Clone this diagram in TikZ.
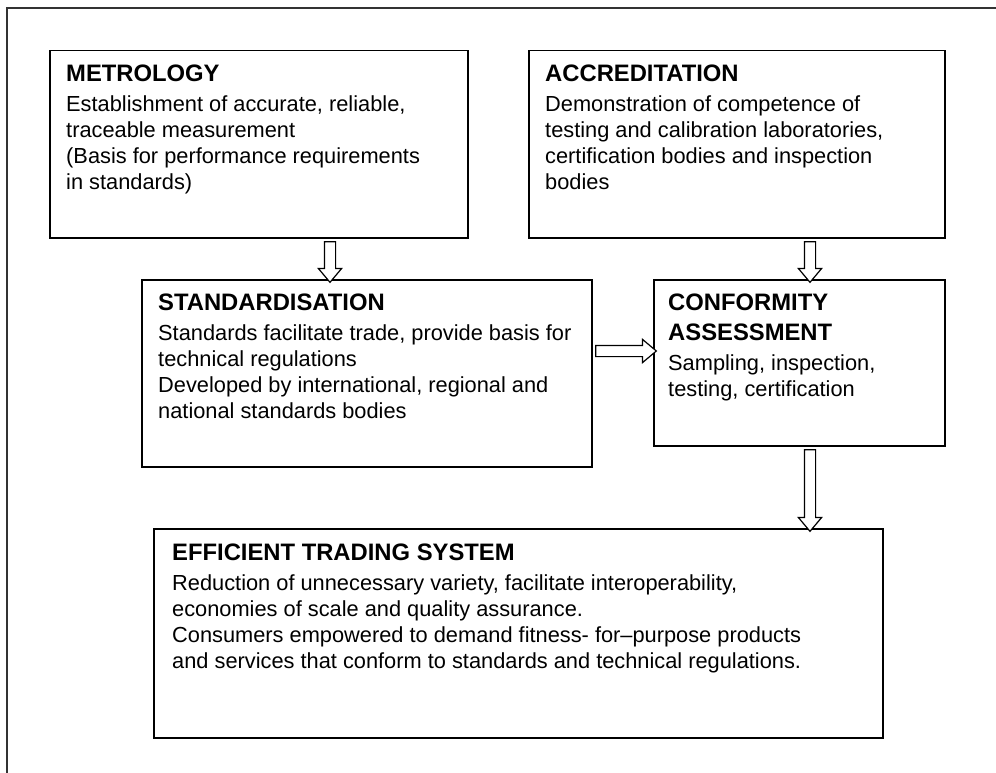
\documentclass[tikz,border=0pt]{standalone}
\usepackage{fontspec}
\setmainfont{Liberation Sans}
\usetikzlibrary{shapes.arrows,positioning,calc}

\tikzset{
  box/.style={draw, line width=1.5pt, rectangle, inner sep=0pt, anchor=north west},
  boxtext/.style={anchor=north west, inner sep=0pt, align=left, font=\fontsize{21.8}{26}\selectfont},
  hollow/.style={single arrow, draw, line width=1.2pt, fill=white, inner sep=5pt,
    minimum width=22pt, single arrow head extend=6pt, single arrow tip angle=80, outer sep=0pt},
}
\newcommand{\boxtitle}[1]{{\fontsize{23.8}{26}\selectfont\bfseries #1}}

\begin{document}
\begin{tikzpicture}[x=1pt, y=-1pt]
    \useasboundingbox (0,0) rectangle (996,773);

    % Outer frame (only top and left edges show)
    \draw[line width=2pt, black!80] (996,8) -- (7,8) -- (7,773);

    % Boxes
    \node[box, minimum width=418pt, minimum height=187pt] (metro) at (49,50) {};
    \node[box, minimum width=416pt, minimum height=187pt] (accred) at (528,50) {};
    \node[box, minimum width=450pt, minimum height=187pt] (std) at (141,279) {};
    \node[box, minimum width=291pt, minimum height=166pt] (conf) at (653,279) {};
    \node[box, minimum width=729pt, minimum height=209pt] (eff) at (153,528) {};

    % Texts
    \node[boxtext] (metrotext) at ($(metro.north west)+(17,15)$) {\boxtitle{METROLOGY}\\[4pt]
      Establishment of accurate, reliable,\\ traceable measurement\\
      (Basis for performance requirements\\ in standards)};
    \node[boxtext] (accredtext) at ($(accred.north west)+(17,15)$) {\boxtitle{ACCREDITATION}\\[4pt]
      Demonstration of competence of\\ testing and calibration laboratories,\\
      certification bodies and inspection\\ bodies};
    \node[boxtext] (stdtext) at ($(std.north west)+(17,15)$) {\boxtitle{STANDARDISATION}\\[4pt]
      Standards facilitate trade, provide basis for\\ technical regulations\\
      Developed by international, regional and\\ national standards bodies};
    \node[boxtext] (conftext) at ($(conf.north west)+(15,15)$) {\boxtitle{CONFORMITY}\\[4pt]
      \boxtitle{ASSESSMENT}\\[4pt] Sampling, inspection,\\ testing, certification};
    \node[boxtext] (efftext) at ($(eff.north west)+(19,16)$) {\boxtitle{EFFICIENT TRADING SYSTEM}\\[4pt]
      Reduction of unnecessary variety, facilitate interoperability,\\
      economies of scale and quality assurance.\\
      Consumers empowered to demand fitness- for–purpose products\\
      and services that conform to standards and technical regulations.};

    % Hollow arrows
    \coordinate (a1) at (330,0);
    \coordinate (a2) at (810,0);
    \coordinate (a3) at (0,351);
    \path let \p1=(metro.south -| a1), \p2=(std.north -| a1), \n1={veclen(\x2-\x1,\y2-\y1)} in
      node[hollow, shape border rotate=270, minimum height=\n1] (arr1) at ($(\p1)!.5!(\p2)$) {};
    \path let \p1=(accred.south -| a2), \p2=(conf.north -| a2), \n1={veclen(\x2-\x1,\y2-\y1)} in
      node[hollow, shape border rotate=270, minimum height=\n1] (arr2) at ($(\p1)!.5!(\p2)$) {};
    \path let \p1=(std.east |- a3), \p2=(conf.west |- a3), \n1={veclen(\x2-\x1,\y2-\y1)} in
      node[hollow, minimum height=\n1] (arr3) at ($(\p1)!.5!(\p2)$) {};
    \path let \p1=(conf.south -| a2), \p2=(eff.north -| a2), \n1={veclen(\x2-\x1,\y2-\y1)} in
      node[hollow, shape border rotate=270, minimum height=\n1] (arr4) at ($(\p1)!.5!(\p2)$) {};
\end{tikzpicture}
\end{document}
